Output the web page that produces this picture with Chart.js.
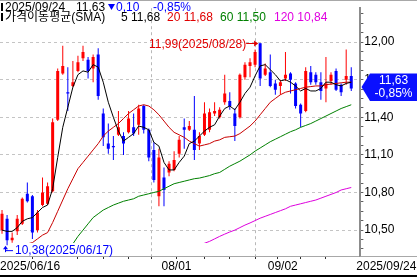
<!DOCTYPE html>
<html><head><meta charset="utf-8">
<script src="https://cdn.jsdelivr.net/npm/chart.js@4.4.1/dist/chart.umd.min.js"></script>
<style>html,body{margin:0;padding:0;background:#fff;}#wrap{width:417px;height:277px;}</style>
</head><body><div id="wrap"><canvas id="c" width="417" height="277"></canvas></div>
<script>
// ---------- DATA ----------
const dates = [
'2025/06/16','2025/06/17','2025/06/18','2025/06/20','2025/06/23','2025/06/24','2025/06/25','2025/06/26','2025/06/27','2025/06/30',
'2025/07/01','2025/07/02','2025/07/03','2025/07/07','2025/07/08','2025/07/09','2025/07/10','2025/07/11','2025/07/14','2025/07/15',
'2025/07/16','2025/07/17','2025/07/18','2025/07/21','2025/07/22','2025/07/23','2025/07/24','2025/07/25','2025/07/28','2025/07/29',
'2025/07/30','2025/07/31','2025/08/01','2025/08/04','2025/08/05','2025/08/06','2025/08/07','2025/08/08','2025/08/11','2025/08/12',
'2025/08/13','2025/08/14','2025/08/15','2025/08/18','2025/08/19','2025/08/20','2025/08/21','2025/08/22','2025/08/25','2025/08/26',
'2025/08/27','2025/08/28','2025/08/29','2025/09/02','2025/09/03','2025/09/04','2025/09/05','2025/09/08','2025/09/09','2025/09/10',
'2025/09/11','2025/09/12','2025/09/15','2025/09/16','2025/09/17','2025/09/18','2025/09/19','2025/09/22','2025/09/23','2025/09/24'];

const openP = [10.50,10.59,10.42,10.49,10.55,10.79,10.77,10.50,10.70,10.71,
10.81,11.38,11.75,11.60,11.65,11.77,11.87,11.86,11.79,11.90,
11.43,11.19,11.17,11.26,11.25,11.28,11.32,11.34,11.49,11.30,
11.14,10.77,10.92,10.96,10.98,11.11,11.32,11.30,11.30,11.19,
11.26,11.30,11.43,11.40,11.52,11.53,11.43,11.40,11.72,11.81,
11.82,11.99,11.74,11.76,11.67,11.65,11.71,11.75,11.67,11.50,
11.45,11.76,11.74,11.68,11.63,11.69,11.77,11.66,11.70,11.73];
const highP = [10.66,10.62,10.48,10.62,10.76,10.88,10.78,10.66,10.92,10.88,
11.39,11.79,11.97,11.80,11.85,11.89,11.97,11.88,11.90,11.95,
11.47,11.35,11.25,11.45,11.28,11.45,11.43,11.50,11.50,11.31,
11.20,11.15,11.00,11.05,11.13,11.25,11.39,11.37,11.57,11.28,
11.52,11.47,11.52,11.48,11.74,11.60,11.47,11.75,11.84,11.87,
11.94,11.99,11.83,11.90,11.70,11.70,11.92,11.76,11.68,11.51,
11.80,11.81,11.76,11.76,11.88,11.76,11.79,11.67,11.94,11.80];
const lowP = [10.47,10.38,10.40,10.46,10.54,10.72,10.43,10.48,10.69,10.70,
10.80,11.37,11.74,11.45,11.64,11.76,11.85,11.71,11.68,11.54,
11.17,11.11,11.06,11.25,11.10,11.27,11.25,11.26,11.27,11.05,
10.88,10.69,10.69,10.93,10.97,11.08,11.15,11.29,11.06,11.14,
11.25,11.28,11.41,11.39,11.50,11.46,11.21,11.39,11.70,11.72,
11.80,11.65,11.73,11.64,11.58,11.58,11.69,11.59,11.47,11.32,
11.44,11.66,11.66,11.54,11.52,11.66,11.61,11.57,11.66,11.61];
const closeP = [10.63,10.42,10.44,10.59,10.75,10.73,10.48,10.64,10.80,10.85,
11.36,11.77,11.81,11.59,11.68,11.84,11.92,11.77,11.88,11.57,
11.24,11.15,11.16,11.32,11.19,11.39,11.27,11.47,11.30,11.08,
10.90,11.08,10.82,11.03,11.06,11.22,11.30,11.33,11.14,11.25,
11.43,11.44,11.45,11.46,11.59,11.49,11.33,11.74,11.82,11.84,
11.92,11.71,11.79,11.65,11.62,11.68,11.74,11.70,11.49,11.43,
11.77,11.68,11.68,11.61,11.67,11.74,11.62,11.60,11.73,11.63];

const ma5 = [10.50,10.49,10.49,10.52,10.57,10.59,10.60,10.64,10.68,10.70,
10.83,11.08,11.32,11.48,11.64,11.74,11.77,11.76,11.82,11.80,
11.68,11.52,11.40,11.29,11.21,11.24,11.27,11.33,11.32,11.30,
11.20,11.17,11.04,10.98,10.98,11.04,11.09,11.19,11.21,11.25,
11.29,11.32,11.34,11.41,11.47,11.49,11.46,11.52,11.59,11.64,
11.73,11.81,11.82,11.78,11.74,11.69,11.70,11.68,11.65,11.61,
11.63,11.61,11.61,11.63,11.68,11.68,11.66,11.65,11.67,11.68];
const ma20 = [10.33,10.35,10.36,10.37,10.38,10.39,10.40,10.43,10.46,10.48,
10.56,10.65,10.74,10.83,10.91,10.99,11.04,11.09,11.14,11.19,
11.25,11.29,11.32,11.35,11.39,11.43,11.46,11.49,11.50,11.49,
11.46,11.42,11.37,11.32,11.28,11.26,11.24,11.21,11.19,11.17,
11.18,11.19,11.21,11.22,11.24,11.245,11.25,11.27,11.30,11.33,
11.37,11.42,11.47,11.52,11.55,11.58,11.60,11.61,11.62,11.63,
11.64,11.645,11.65,11.65,11.66,11.665,11.67,11.675,11.68,11.68];
const ma60 = [null,null,null,null,null,null,null,null,null,null,
null,null,10.29,10.34,10.39,10.45,10.50,10.55,10.60,10.63,
10.66,10.68,10.70,10.715,10.73,10.74,10.75,10.77,10.78,10.79,
10.80,10.81,10.83,10.85,10.87,10.88,10.89,10.90,10.91,10.915,
10.925,10.935,10.95,10.96,10.985,11.01,11.03,11.05,11.075,11.10,
11.13,11.155,11.18,11.205,11.225,11.245,11.265,11.285,11.30,11.32,
11.335,11.35,11.37,11.39,11.41,11.43,11.45,11.47,11.485,11.50];
const ma120 = [null,null,null,null,null,null,null,null,null,null,
null,null,null,null,null,null,null,null,null,null,
null,null,null,null,null,null,null,null,null,null,
null,null,null,null,null,null,null,null,10.36,10.377,
10.395,10.41,10.43,10.45,10.468,10.485,10.50,10.52,10.54,10.557,
10.576,10.595,10.61,10.625,10.64,10.655,10.67,10.69,10.70,10.71,
10.72,10.73,10.74,10.755,10.77,10.785,10.80,10.82,10.83,10.84];

const xLabelDates = ['2025/06/16','2025/08/01','2025/09/02','2025/09/24'];
const xLabelTexts = ['2025/06/16','08/01','09/02','2025/09/24'];
const xTickDates = ['2025/06/16','2025/07/07','2025/07/14','2025/07/21','2025/07/28','2025/08/01','2025/08/11',
                    '2025/08/18','2025/08/25','2025/09/02','2025/09/08','2025/09/15','2025/09/22'];
const yLabelValues = [10.50,10.80,11.10,11.40,11.70,12.00];
const yMinorStep = 0.075;
const highMark = {date:'2025/08/28', value:11.99};
const lowMark = {date:'2025/06/17', value:10.38};

// ---------- HELPERS ----------
const FONT = "'Liberation Sans','Noto Sans CJK KR',sans-serif";
const fmt = v => v.toFixed(2).replace('.', ',');
const idx = d => dates.indexOf(d);
const xMin = -0.4, xMax = 70.8;
const yMin = 12 - (256 - 35) / 129.5, yMax = 12 + 35 / 129.5;
const RED = '#ff0000', BLUE = '#0000ff';

const labelPos = xLabelDates.map((d, k) => {
  if (k === 0) return xMin;
  if (k === xLabelDates.length - 1) return idx(d) + 1;
  return idx(d) - 0.5;
});
const monthLines = labelPos.slice(1, -1);
const tickPos = Array.from(new Set(xTickDates.map(d => Math.max(xMin, idx(d) - 0.5)).concat(labelPos))).sort((a,b)=>a-b);
const near = (a, b) => Math.abs(a - b) < 1e-6;
const isMajorY = v => yLabelValues.some(m => near(m, v));

const candleColor = dates.map((d, i) => closeP[i] >= openP[i] ? RED : BLUE);
const lineClip = {left: 0, top: 0, right: 0, bottom: -13};
const mkLine = (arr, color) => ({
  type: 'line', data: arr.map((v, i) => ({x: i, y: v})), borderColor: color, borderWidth: 1,
  pointRadius: 0, tension: 0, spanGaps: false, order: 0, clip: lineClip
});

const overlay = {
  id: 'overlay',
  afterDraw(chart) {
    const ctx = chart.ctx, xs = chart.scales.x, ys = chart.scales.y, ca = chart.chartArea;
    const W = chart.width, H = chart.height;
    ctx.save();
    // frame lines
    ctx.fillStyle = '#a8a8a8';
    ctx.fillRect(0, 0, W, 1);
    ctx.fillRect(xs.right, ca.bottom, W - xs.right, 1);
    ctx.fillStyle = '#000';
    ctx.fillRect(0, H - 2, W, 2);

    // header
    ctx.font = '12px ' + FONT;
    ctx.textBaseline = 'alphabetic';
    ctx.textAlign = 'left';
    const n = closeP.length;
    const last = closeP[n - 1], prev = closeP[n - 2];
    const chg = last - prev, pct = chg / prev * 100;
    ctx.fillStyle = '#000';
    ctx.fillRect(1, 3, 2, 8);
    ctx.fillRect(1, 13, 2, 8);
    ctx.fillText(dates[n - 1], 5, 11);
    ctx.fillText(fmt(last), 76, 11);
    ctx.fillStyle = chg < 0 ? BLUE : RED;
    ctx.beginPath(); ctx.moveTo(108, 4); ctx.lineTo(115, 4); ctx.lineTo(111.5, 10); ctx.closePath(); ctx.fill();
    ctx.fillText(fmt(Math.abs(chg)), 116, 11);
    ctx.fillText((pct < 0 ? '-' : '') + fmt(Math.abs(pct)) + '%', 153, 11);
    ctx.fillStyle = '#000';
    ctx.fillText('가격이동평균(SMA)', 5, 21);
    ctx.fillText('5 ' + fmt(ma5[n - 1]), 121, 21);
    ctx.fillStyle = '#e00000';
    ctx.fillText('20 ' + fmt(ma20[n - 1]), 167, 21);
    ctx.fillStyle = '#008000';
    ctx.fillText('60 ' + fmt(ma60[n - 1]), 220, 21);
    ctx.fillStyle = '#e000e0';
    ctx.fillText('120 ' + fmt(ma120[n - 1]), 274, 21);

    // high marker
    const hx = xs.getPixelForValue(idx(highMark.date)), hy = ys.getPixelForValue(highMark.value);
    ctx.fillStyle = '#e00000'; ctx.strokeStyle = '#e00000'; ctx.lineWidth = 1;
    ctx.textAlign = 'right'; ctx.textBaseline = 'middle';
    ctx.fillText(fmt(highMark.value) + '(' + highMark.date + ')', hx - 14, hy + 1);
    ctx.beginPath(); ctx.moveTo(hx - 14, Math.round(hy) + 0.5); ctx.lineTo(hx - 3, Math.round(hy) + 0.5); ctx.stroke();
    ctx.beginPath(); ctx.moveTo(hx - 2, Math.round(hy) + 0.5); ctx.lineTo(hx - 6, Math.round(hy) - 2.5); ctx.lineTo(hx - 6, Math.round(hy) + 3.5); ctx.closePath(); ctx.fill();

    // low marker
    const lx = xs.getPixelForValue(idx(lowMark.date)), ly = ys.getPixelForValue(lowMark.value);
    ctx.fillStyle = BLUE; ctx.strokeStyle = BLUE;
    ctx.textAlign = 'left';
    ctx.fillText(fmt(lowMark.value) + '(' + lowMark.date + ')', 15, ly + 5.5);
    const ax = Math.round(lx) - 1.5;
    ctx.beginPath(); ctx.moveTo(ax, ly + 3); ctx.lineTo(ax, ly + 7); ctx.moveTo(ax, ly + 5.5); ctx.lineTo(13, ly + 5.5); ctx.stroke();
    ctx.beginPath(); ctx.moveTo(ax, ly + 0.5); ctx.lineTo(ax - 2.5, ly + 4); ctx.lineTo(ax + 2.5, ly + 4); ctx.closePath(); ctx.fill();

    // current price box
    const cy = ys.getPixelForValue(last);
    ctx.fillStyle = '#0a10ff';
    ctx.beginPath();
    ctx.moveTo(370, cy - 15); ctx.lineTo(W, cy - 15); ctx.lineTo(W, cy + 12.5); ctx.lineTo(370, cy + 12.5);
    ctx.lineTo(361.5, cy - 1.5); ctx.closePath(); ctx.fill();
    ctx.fillStyle = '#fff'; ctx.textAlign = 'center'; ctx.textBaseline = 'middle';
    ctx.fillText(fmt(last), 393.5, cy - 7.5);
    ctx.fillText((pct < 0 ? '-' : '') + fmt(Math.abs(pct)) + '%', 393.5, cy + 5.5);
    ctx.restore();
  }
};

new Chart(document.getElementById('c'), {
  type: 'bar',
  data: {
    datasets: [
      mkLine(ma5, '#000000'),
      mkLine(ma20, '#c80000'),
      mkLine(ma60, '#008000'),
      mkLine(ma120, '#dd00dd'),
      { type: 'bar', data: dates.map((d, i) => ({x: i, y: [lowP[i], highP[i]]})), backgroundColor: candleColor,
        barThickness: 1, grouped: false, order: 2, borderWidth: 0, inflateAmount: 0 },
      { type: 'bar', data: dates.map((d, i) => ({x: i, y: [openP[i], closeP[i]]})), backgroundColor: candleColor,
        barThickness: 3, grouped: false, order: 1, borderWidth: 0, minBarLength: 1, inflateAmount: 0 }
    ]
  },
  options: {
    responsive: false, animation: false, devicePixelRatio: 1, events: [],
    layout: { padding: 0 },
    plugins: { legend: { display: false }, tooltip: { enabled: false } },
    scales: {
      x: {
        type: 'linear', position: 'bottom', min: xMin, max: xMax, offset: false,
        afterBuildTicks: s => { s.ticks = tickPos.map(v => ({value: v})); },
        afterFit: s => { s.height = 21; },
        ticks: {
          autoSkip: false, maxRotation: 0, minRotation: 0, align: 'start', padding: 0,
          color: '#000', font: { size: 12, family: FONT },
          callback: v => { const k = labelPos.findIndex(p => near(p, v)); return k >= 0 ? xLabelTexts[k] : ''; }
        },
        grid: {
          drawOnChartArea: true, drawTicks: true, tickLength: 3, lineWidth: 1,
          color: c => (c.tick && monthLines.some(m => near(m, c.tick.value))) ? '#b8b8b8' : 'rgba(0,0,0,0)',
          tickColor: c => (c.tick && near(c.tick.value, labelPos[labelPos.length - 1])) ? 'rgba(0,0,0,0)' : '#303030'
        },
        border: { display: true, color: '#a8a8a8', width: 1, dash: [3, 3] }
      },
      y: {
        type: 'linear', position: 'right', min: yMin, max: yMax,
        afterBuildTicks: s => {
          const t = [];
          for (let k = Math.ceil(yMin / yMinorStep); k * yMinorStep <= yMax; k++) t.push({value: +(k * yMinorStep).toFixed(3)});
          s.ticks = t;
        },
        afterFit: s => { s.width = 56; },
        ticks: {
          autoSkip: false, padding: 1, color: '#000', font: { size: 12, family: FONT },
          callback: v => isMajorY(v) ? fmt(v) : ''
        },
        grid: {
          drawTicks: true, tickLength: 3, lineWidth: 1,
          color: c => (c.tick && isMajorY(c.tick.value)) ? '#c4c4c4' : 'rgba(0,0,0,0)',
          tickColor: '#606060'
        },
        border: { display: true, color: '#8c8c8c', width: 2, dash: [3, 3] }
      }
    }
  },
  plugins: [overlay]
});
</script>
</body></html>
